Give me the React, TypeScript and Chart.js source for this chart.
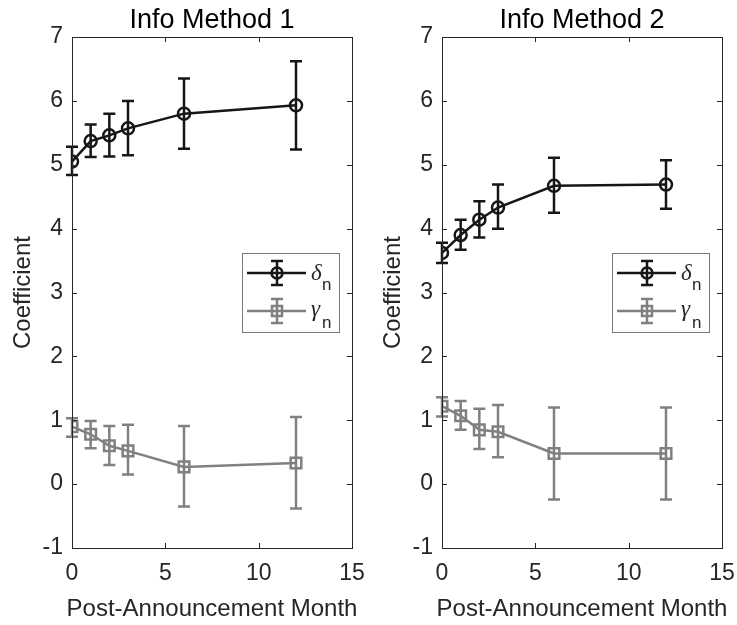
import React, { useEffect, useRef } from 'react';
import { Chart, registerables } from 'chart.js';

Chart.register(...registerables);

// ---------- data ----------
const months = [0, 1, 2, 3, 6, 12];
const xTicks = [0, 5, 10, 15];
const yTicks = [-1, 0, 1, 2, 3, 4, 5, 6, 7];

const m1Delta = [5.05, 5.37, 5.46, 5.57, 5.8, 5.93];
const m1DeltaLo = [4.84, 5.12, 5.13, 5.15, 5.25, 5.24];
const m1DeltaHi = [5.28, 5.63, 5.8, 6.0, 6.35, 6.62];
const m1Gamma = [0.9, 0.78, 0.6, 0.52, 0.27, 0.33];
const m1GammaLo = [0.74, 0.56, 0.3, 0.15, -0.35, -0.38];
const m1GammaHi = [1.03, 0.99, 0.91, 0.93, 0.91, 1.05];

const m2Delta = [3.62, 3.9, 4.14, 4.33, 4.67, 4.69];
const m2DeltaLo = [3.46, 3.67, 3.86, 4.0, 4.25, 4.31];
const m2DeltaHi = [3.78, 4.14, 4.43, 4.69, 5.11, 5.07];
const m2Gamma = [1.22, 1.07, 0.85, 0.82, 0.48, 0.48];
const m2GammaLo = [1.06, 0.85, 0.55, 0.42, -0.24, -0.24];
const m2GammaHi = [1.36, 1.3, 1.18, 1.24, 1.2, 1.2];

const titles = ['Info Method 1', 'Info Method 2'];
const xLabel = 'Post-Announcement Month';
const yLabel = 'Coefficient';
const seriesSymbols = ['δ', 'γ'];
const seriesSub = 'n';

// ---------- style ----------
const FONT = '"Liberation Sans", Arial, Helvetica, sans-serif';
const SERIF = '"Liberation Serif", "DejaVu Serif", serif';
const TEXT = '#262626';
const AXIS = '#262626';
const DELTA_COLOR = '#161616';
const GAMMA_COLOR = '#808080';
const LW = 2.5;

const CANVAS_W = 367;
const CANVAS_H = 625;

const errorBarPlugin = {
  id: 'errorBars',
  beforeDatasetsDraw(chart: any) {
    const ctx = chart.ctx;
    const xs = chart.scales.x;
    const ys = chart.scales.y;
    chart.data.datasets.forEach((ds: any) => {
      ctx.save();
      ctx.strokeStyle = ds.borderColor;
      ctx.lineWidth = LW;
      ds.data.forEach((p: any, i: number) => {
        const x = xs.getPixelForValue(p.x);
        const yl = ys.getPixelForValue(ds.errLo[i]);
        const yh = ys.getPixelForValue(ds.errHi[i]);
        ctx.beginPath();
        ctx.moveTo(x, yl);
        ctx.lineTo(x, yh);
        ctx.moveTo(x - 6, yl);
        ctx.lineTo(x + 6, yl);
        ctx.moveTo(x - 6, yh);
        ctx.lineTo(x + 6, yh);
        ctx.stroke();
      });
      ctx.restore();
    });
  },
};

const framePlugin = {
  id: 'frame',
  afterDraw(chart: any) {
    const ctx = chart.ctx;
    const ca = chart.chartArea;
    const xs = chart.scales.x;
    const ys = chart.scales.y;
    const title = chart.options.plugins.frame.title;
    ctx.save();
    // box
    ctx.strokeStyle = AXIS;
    ctx.lineWidth = 1;
    ctx.strokeRect(Math.round(ca.left) + 0.5, Math.round(ca.top) + 0.5, Math.round(ca.right - ca.left), Math.round(ca.bottom - ca.top));
    // inner ticks
    ctx.beginPath();
    xTicks.forEach((v) => {
      const x = Math.round(xs.getPixelForValue(v)) + 0.5;
      ctx.moveTo(x, ca.bottom);
      ctx.lineTo(x, ca.bottom - 5);
      ctx.moveTo(x, ca.top);
      ctx.lineTo(x, ca.top + 5);
    });
    yTicks.forEach((v) => {
      const y = Math.round(ys.getPixelForValue(v)) + 0.5;
      ctx.moveTo(ca.left, y);
      ctx.lineTo(ca.left + 5, y);
      ctx.moveTo(ca.right, y);
      ctx.lineTo(ca.right - 5, y);
    });
    ctx.stroke();

    // title
    const cx = (ca.left + ca.right) / 2;
    ctx.fillStyle = '#000';
    ctx.font = `27px ${FONT}`;
    ctx.textAlign = 'center';
    ctx.textBaseline = 'alphabetic';
    ctx.fillText(title, cx, 28);
    // x label
    ctx.fillStyle = TEXT;
    ctx.font = `24px ${FONT}`;
    ctx.fillText(xLabel, cx, 616);
    // y label
    ctx.save();
    ctx.translate(30, (ca.top + ca.bottom) / 2);
    ctx.rotate(-Math.PI / 2);
    ctx.fillText(yLabel, 0, 0);
    ctx.restore();

    // legend
    const lx = ca.left + 170;
    const ly = ca.top + 216;
    const lw = 97;
    const lh = 79;
    ctx.fillStyle = '#fff';
    ctx.fillRect(lx, ly, lw, lh);
    ctx.strokeStyle = '#7a7a7a';
    ctx.lineWidth = 1;
    ctx.strokeRect(lx + 0.5, ly + 0.5, lw, lh);
    const rows = [ly + 20, ly + 58];
    chart.data.datasets.forEach((ds: any, i: number) => {
      const cy = rows[i];
      const mx = lx + 35;
      ctx.strokeStyle = ds.borderColor;
      ctx.lineWidth = LW;
      ctx.beginPath();
      ctx.moveTo(lx + 5, cy);
      ctx.lineTo(lx + 64, cy);
      ctx.moveTo(mx, cy - 12);
      ctx.lineTo(mx, cy + 12);
      ctx.moveTo(mx - 6, cy - 12);
      ctx.lineTo(mx + 6, cy - 12);
      ctx.moveTo(mx - 6, cy + 12);
      ctx.lineTo(mx + 6, cy + 12);
      ctx.stroke();
      ctx.beginPath();
      if (ds.pointStyle === 'circle') {
        ctx.arc(mx, cy, 5.5, 0, Math.PI * 2);
      } else {
        ctx.rect(mx - 5, cy - 5, 10, 10);
      }
      ctx.stroke();
      ctx.fillStyle = TEXT;
      ctx.textAlign = 'left';
      ctx.font = `italic 23px ${SERIF}`;
      ctx.fillText(seriesSymbols[i], lx + 69, cy + (i === 0 ? 7 : 5));
      ctx.font = `17px ${FONT}`;
      ctx.fillText(seriesSub, lx + 80, cy + 17);
    });
    ctx.restore();
  },
};

function makeConfig(title: string, d: number[], dLo: number[], dHi: number[], g: number[], gLo: number[], gHi: number[]): any {
  return {
    type: 'line',
    data: {
      datasets: [
        {
          label: 'δn',
          data: months.map((m, i) => ({ x: m, y: d[i] })),
          errLo: dLo,
          errHi: dHi,
          borderColor: DELTA_COLOR,
          borderWidth: LW,
          pointStyle: 'circle',
          pointRadius: 6,
          pointBorderWidth: LW,
          pointBorderColor: DELTA_COLOR,
          pointBackgroundColor: 'rgba(0,0,0,0)',
          tension: 0,
        },
        {
          label: 'γn',
          data: months.map((m, i) => ({ x: m, y: g[i] })),
          errLo: gLo,
          errHi: gHi,
          borderColor: GAMMA_COLOR,
          borderWidth: LW,
          pointStyle: 'rect',
          pointRadius: 7.5,
          pointBorderWidth: LW,
          pointBorderColor: GAMMA_COLOR,
          pointBackgroundColor: 'rgba(0,0,0,0)',
          tension: 0,
        },
      ],
    },
    plugins: [errorBarPlugin, framePlugin],
    options: {
      animation: false,
      responsive: false,
      maintainAspectRatio: false,
      devicePixelRatio: 1,
      layout: { padding: { left: 0, right: CANVAS_W - 352, top: 37, bottom: 0 } },
      plugins: {
        legend: { display: false },
        tooltip: { enabled: false },
        title: { display: false },
        frame: { title },
      },
      scales: {
        x: {
          type: 'linear',
          min: 0,
          max: 15,
          afterBuildTicks: (s: any) => {
            s.ticks = xTicks.map((v) => ({ value: v }));
          },
          afterFit: (s: any) => {
            s.height = CANVAS_H - 548;
            s.paddingLeft = 0;
            s.paddingRight = 0;
          },
          grid: { display: false, drawTicks: false },
          border: { display: false },
          ticks: {
            color: TEXT,
            font: { family: FONT, size: 23 },
            padding: 12,
            maxRotation: 0,
            autoSkip: false,
          },
        },
        y: {
          type: 'linear',
          min: -1,
          max: 7,
          afterBuildTicks: (s: any) => {
            s.ticks = yTicks.map((v) => ({ value: v }));
          },
          afterFit: (s: any) => {
            s.width = 72;
            s.paddingTop = 0;
            s.paddingBottom = 0;
          },
          grid: { display: false, drawTicks: false },
          border: { display: false },
          ticks: {
            color: TEXT,
            font: { family: FONT, size: 23 },
            padding: 9,
            autoSkip: false,
          },
        },
      },
    },
  };
}

function Panel(props: { left: number; cfg: () => any }) {
  const ref = useRef<HTMLCanvasElement | null>(null);
  useEffect(() => {
    if (!ref.current) return;
    const chart = new Chart(ref.current, props.cfg());
    return () => chart.destroy();
  }, []);
  return (
    <canvas
      ref={ref}
      width={CANVAS_W}
      height={CANVAS_H}
      style={{ position: 'absolute', left: props.left, top: 0, width: CANVAS_W, height: CANVAS_H }}
    />
  );
}

export default function App() {
  return (
    <div style={{ position: 'absolute', left: 0, top: 0, width: 737, height: 625, background: '#fff', overflow: 'hidden' }}>
      <Panel left={0} cfg={() => makeConfig(titles[0], m1Delta, m1DeltaLo, m1DeltaHi, m1Gamma, m1GammaLo, m1GammaHi)} />
      <Panel left={370} cfg={() => makeConfig(titles[1], m2Delta, m2DeltaLo, m2DeltaHi, m2Gamma, m2GammaLo, m2GammaHi)} />
    </div>
  );
}
